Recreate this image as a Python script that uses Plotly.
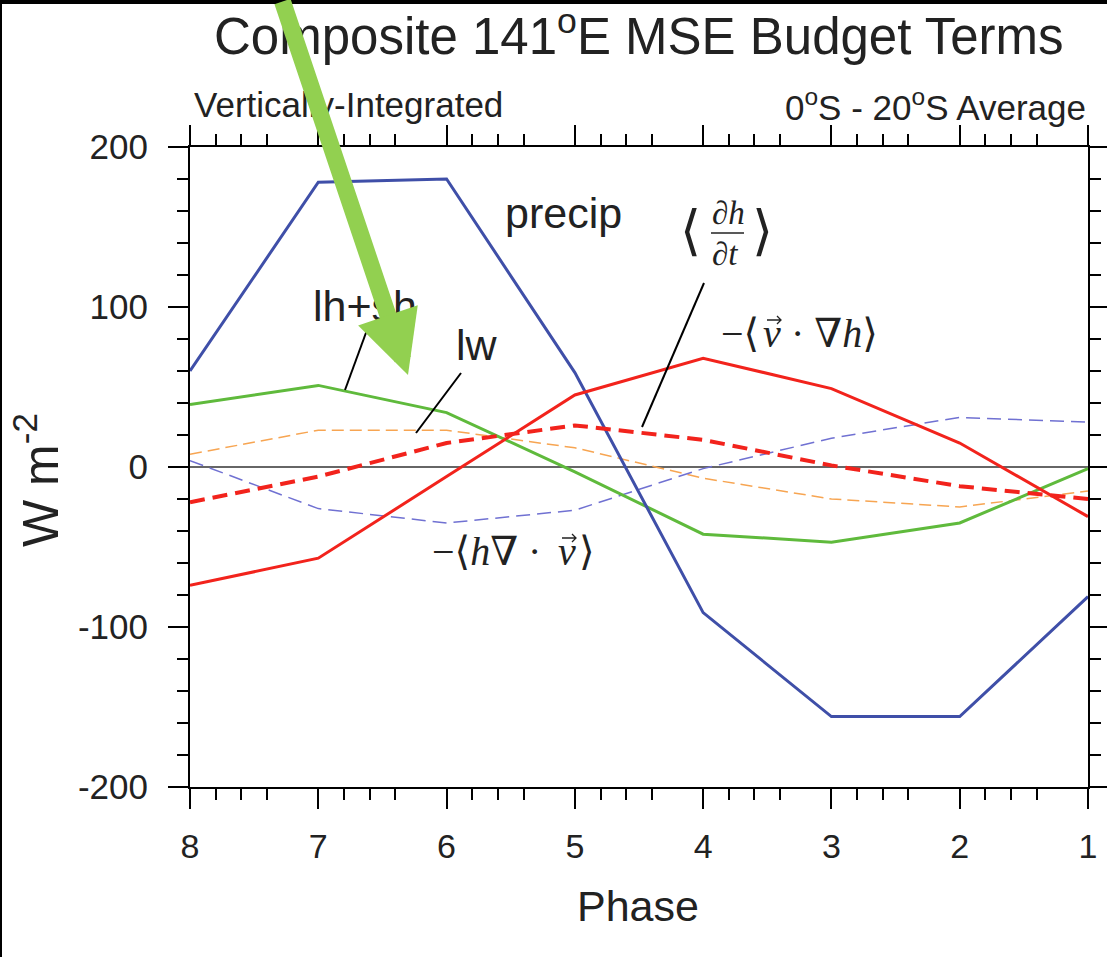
import plotly.graph_objects as go

# ---- data -------------------------------------------------------------
phase = [8, 7, 6, 5, 4, 3, 2, 1]
precip = [60, 178, 180, 59, -91, -156, -156, -81]
lh_sh = [39, 51, 34, -3, -42, -47, -35, -1]
lw = [8, 23, 23, 12, -7, -20, -25, -15]
h_div_v = [4, -26, -35, -27, -1, 18, 31, 28]        # -<h div v>
v_grad_h = [-74, -57, -6, 45, 68, 49, 15, -31]      # -<v . grad h>
dh_dt = [-22, -6, 15, 26, 17, 1, -12, -20]          # <dh/dt>

y_ticks = [-200, -100, 0, 100, 200]
x_ticks = [8, 7, 6, 5, 4, 3, 2, 1]

# ---- page geometry (pixels) -------------------------------------------
W, H = 1107, 957
L, R, T, B = 190, 1088, 147, 787


def px(x):
    return (x - L) / (R - L)


def py(y):
    return (B - y) / (B - T)


SANS = "Liberation Sans, Arial, Helvetica, sans-serif"
SERIF = "Liberation Serif, DejaVu Serif, Times New Roman, serif"

fig = go.Figure()

fig.add_trace(go.Scatter(x=phase, y=lw, mode="lines",
                         line=dict(color="#f7a552", width=1.5, dash="12px,6px")))
fig.add_trace(go.Scatter(x=phase, y=h_div_v, mode="lines",
                         line=dict(color="#7071d2", width=1.5, dash="14px,7px")))
fig.add_trace(go.Scatter(x=phase, y=lh_sh, mode="lines",
                         line=dict(color="#5fba3c", width=3)))
fig.add_trace(go.Scatter(x=phase, y=precip, mode="lines",
                         line=dict(color="#3f4fa8", width=3)))
fig.add_trace(go.Scatter(x=phase, y=v_grad_h, mode="lines",
                         line=dict(color="#f2231c", width=3)))
fig.add_trace(go.Scatter(x=phase, y=dh_dt, mode="lines",
                         line=dict(color="#f2231c", width=4, dash="15px,8px")))

x_minor = [v - d for v in x_ticks[:-1] for d in (0.2, 0.4, 0.6)]

fig.update_xaxes(
    range=[8, 1], tickmode="array", tickvals=x_ticks,
    ticktext=[str(v) for v in x_ticks],
    ticks="outside", ticklen=20, tickwidth=2, tickcolor="black",
    minor=dict(tickmode="array", tickvals=x_minor, ticks="outside",
               ticklen=11, tickwidth=2, tickcolor="black", showgrid=False),
    showline=True, linecolor="black", linewidth=2, mirror="allticks",
    showgrid=False, zeroline=False, automargin=False,
    tickfont=dict(family=SANS, size=34, color="#222"),
    ticklabelstandoff=8,
)
fig.update_yaxes(
    range=[-200, 200], tickmode="array", tickvals=y_ticks,
    ticktext=[str(v) for v in y_ticks],
    ticks="outside", ticklen=20, tickwidth=2, tickcolor="black",
    minor=dict(dtick=20, tick0=0, ticks="outside", ticklen=11,
               tickwidth=2, tickcolor="black", showgrid=False),
    showline=True, linecolor="black", linewidth=2, mirror="allticks",
    showgrid=False, zeroline=True, zerolinecolor="#666", zerolinewidth=1.5,
    automargin=False,
    tickfont=dict(family=SANS, size=35, color="#222"),
    ticklabelstandoff=13,
)

ann = []


def text(x, y, s, size, family=SANS, xa="center", ya="middle", angle=0, color="#222"):
    ann.append(dict(x=px(x), y=py(y), xref="paper", yref="paper", text=s,
                    showarrow=False, xanchor=xa, yanchor=ya, textangle=angle,
                    font=dict(family=family, size=size, color=color)))


# titles
text(638, 33, "Composite 141<sup>o</sup>E MSE Budget Terms", 51)
text(192, 105, "Vertically-Integrated", 35, xa="left")
text(1088, 105, "0<sup>o</sup>S - 20<sup>o</sup>S Average", 35, xa="right")
text(638, 906, "Phase", 43)
text(37, 480, "W m<sup>-2</sup>", 50, angle=-90)

# curve labels
text(563, 213, "precip", 43)
text(365, 306, "lh+sh", 43)
text(477, 345, "lw", 43)

# -<v . grad h>
text(761, 333, "−⟨", 40, family=SERIF, xa="right")
text(772, 333, "<i>v</i>", 40, family=SERIF)
text(789, 333, "· ∇<i>h</i>⟩", 40, family=SERIF, xa="left")

# -<h div v>
text(543, 551, "−⟨<i>h</i>∇ ·", 40, family=SERIF, xa="right")
text(567, 551, "<i>v</i>", 40, family=SERIF)
text(577, 551, "⟩", 40, family=SERIF, xa="left")

# <dh/dt>
text(690, 231, "⟨", 54, family=SERIF)
text(762, 231, "⟩", 54, family=SERIF)
text(728, 213, "∂<i>h</i>", 33, family=SERIF)
text(725, 254, "∂<i>t</i>", 33, family=SERIF)

# highlight arrow on top of everything
tip_x, tip_y = 408, 375
ann.append(dict(x=px(tip_x), y=py(tip_y), xref="paper", yref="paper", text="",
                showarrow=True, arrowhead=2, arrowsize=0.74, arrowwidth=17,
                arrowcolor="#92d050", axref="pixel", ayref="pixel",
                ax=282 - tip_x, ay=-12 - tip_y, standoff=0))

shapes = []


def seg(x0, y0, x1, y1, color="black", width=2):
    shapes.append(dict(type="line", xref="paper", yref="paper",
                       x0=px(x0), y0=py(y0), x1=px(x1), y1=py(y1),
                       line=dict(color=color, width=width), layer="above"))


def vec_arrow(xc, yc, half=7, head=4):
    # small vector accent drawn above a glyph
    pts = [(xc - half, yc), (xc + half, yc)]
    d = "M{:.5f},{:.5f} L{:.5f},{:.5f} ".format(px(pts[0][0]), py(pts[0][1]),
                                                  px(pts[1][0]), py(pts[1][1]))
    d += "M{:.5f},{:.5f} L{:.5f},{:.5f} L{:.5f},{:.5f}".format(
        px(xc + half - head), py(yc - head), px(xc + half), py(yc),
        px(xc + half - head), py(yc + head))
    shapes.append(dict(type="path", xref="paper", yref="paper", path=d,
                       line=dict(color="#222", width=1.3), layer="above"))


# leader lines
seg(367, 330, 345, 390)
seg(461, 373, 416, 433)
seg(704, 283, 642, 427)
# fraction bar
seg(711, 233, 744, 233, color="#222", width=1.5)
# vector accents over v
vec_arrow(774, 320)
vec_arrow(569, 538)

# dark frame along the top and left page edges
shapes.append(dict(type="rect", xref="paper", yref="paper",
                   x0=px(0), x1=px(W), y0=py(4), y1=py(-2),
                   fillcolor="black", line=dict(width=0), layer="above"))
shapes.append(dict(type="rect", xref="paper", yref="paper",
                   x0=px(-2), x1=px(2), y0=py(H), y1=py(0),
                   fillcolor="black", line=dict(width=0), layer="above"))

fig.update_layout(
    width=W, height=H, autosize=False,
    margin=dict(l=L, r=W - R, t=T, b=H - B),
    paper_bgcolor="white", plot_bgcolor="white",
    showlegend=False, annotations=ann, shapes=shapes,
)

fig.write_html("out.html")
